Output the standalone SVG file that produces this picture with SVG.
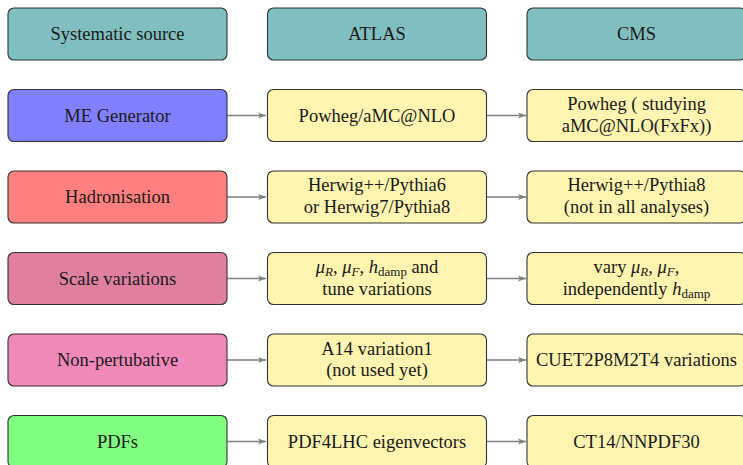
<svg xmlns="http://www.w3.org/2000/svg" width="743" height="465" viewBox="0 0 743 465">
<defs>
<style>
.b{stroke:#333;stroke-width:1.1}
.t{font-family:"Liberation Serif","Times New Roman",serif;font-size:18.5px;fill:#1a1a1a;text-anchor:middle}
.i{font-style:italic}
.s{font-size:13px}
.c{stroke:#808080;stroke-width:1.3;fill:none;marker-end:url(#ah)}
.y{fill:#FFF5B1}
.h{fill:#80BFBF}
</style>
<marker id="ah" markerWidth="10" markerHeight="8" refX="8" refY="4" orient="auto" markerUnits="userSpaceOnUse">
<path d="M0,1 L8,4 L0,7 L2,4 Z" fill="#808080"/>
</marker>
</defs>
<rect width="743" height="465" fill="#fff"/>
<g id="connectors">
<line class="c" x1="227" y1="115.5" x2="266" y2="115.5"/>
<line class="c" x1="486" y1="115.5" x2="526" y2="115.5"/>
<line class="c" x1="227" y1="197" x2="266" y2="197"/>
<line class="c" x1="486" y1="197" x2="526" y2="197"/>
<line class="c" x1="227" y1="278.5" x2="266" y2="278.5"/>
<line class="c" x1="486" y1="278.5" x2="526" y2="278.5"/>
<line class="c" x1="227" y1="360" x2="266" y2="360"/>
<line class="c" x1="486" y1="360" x2="526" y2="360"/>
<line class="c" x1="227" y1="441.5" x2="266" y2="441.5"/>
<line class="c" x1="486" y1="441.5" x2="526" y2="441.5"/>
</g>
<g id="h-source"><rect class="b h" x="8" y="8" width="219" height="52" rx="6"/><text class="t" x="117.5" y="40.3">Systematic source</text></g>
<g id="h-atlas"><rect class="b h" x="267.5" y="8" width="219" height="52" rx="6"/><text class="t" x="377" y="40.3">ATLAS</text></g>
<g id="h-cms"><rect class="b h" x="527" y="8" width="219" height="52" rx="6"/><text class="t" x="636.5" y="40.3">CMS</text></g>

<g id="me"><rect class="b" fill="#8080FF" x="8" y="89.5" width="219" height="52" rx="6"/><text class="t" x="117.5" y="121.8">ME Generator</text></g>
<g id="me-atlas"><rect class="b y" x="267.5" y="89.5" width="219" height="52" rx="6"/><text class="t" x="377" y="121.8">Powheg/aMC@NLO</text></g>
<g id="me-cms"><rect class="b y" x="527" y="89.5" width="219" height="52" rx="6"/><text class="t" x="636.5" y="110.3">Powheg ( studying</text><text class="t" x="636.5" y="131.8">aMC@NLO(FxFx))</text></g>

<g id="had"><rect class="b" fill="#FF8080" x="8" y="171" width="219" height="52" rx="6"/><text class="t" x="117.5" y="203.3">Hadronisation</text></g>
<g id="had-atlas"><rect class="b y" x="267.5" y="171" width="219" height="52" rx="6"/><text class="t" x="377" y="191.3">Herwig++/Pythia6</text><text class="t" x="377" y="213.3">or Herwig7/Pythia8</text></g>
<g id="had-cms"><rect class="b y" x="527" y="171" width="219" height="52" rx="6"/><text class="t" x="636.5" y="191.3">Herwig++/Pythia8</text><text class="t" x="636.5" y="213.3">(not in all analyses)</text></g>

<g id="scale"><rect class="b" fill="#DF809F" x="8" y="252.5" width="219" height="52" rx="6"/><text class="t" x="117.5" y="284.8">Scale variations</text></g>
<g id="scale-atlas"><rect class="b y" x="267.5" y="252.5" width="219" height="52" rx="6"/><text class="t" x="377" y="273"><tspan class="i">μ</tspan><tspan class="i s" dy="3">R</tspan><tspan dy="-3">, </tspan><tspan class="i">μ</tspan><tspan class="i s" dy="3">F</tspan><tspan dy="-3">, </tspan><tspan class="i">h</tspan><tspan class="s" dy="3">damp</tspan><tspan dy="-3"> and</tspan></text><text class="t" x="377" y="294.8">tune variations</text></g>
<g id="scale-cms"><rect class="b y" x="527" y="252.5" width="219" height="52" rx="6"/><text class="t" x="636.5" y="273">vary <tspan class="i">μ</tspan><tspan class="i s" dy="3">R</tspan><tspan dy="-3">, </tspan><tspan class="i">μ</tspan><tspan class="i s" dy="3">F</tspan><tspan dy="-3">,</tspan></text><text class="t" x="636.5" y="294.8">independently <tspan class="i">h</tspan><tspan class="s" dy="3">damp</tspan></text></g>

<g id="np"><rect class="b" fill="#F088B8" x="8" y="334" width="219" height="52" rx="6"/><text class="t" x="117.5" y="366.3">Non-pertubative</text></g>
<g id="np-atlas"><rect class="b y" x="267.5" y="334" width="219" height="52" rx="6"/><text class="t" x="377" y="354.5">A14 variation1</text><text class="t" x="377" y="376.3">(not used yet)</text></g>
<g id="np-cms"><rect class="b y" x="527" y="334" width="219" height="52" rx="6"/><text class="t" x="636.5" y="366.3">CUET2P8M2T4 variations</text></g>

<g id="pdf"><rect class="b" fill="#80FF80" x="8" y="415.5" width="219" height="52" rx="6"/><text class="t" x="117.5" y="447.8">PDFs</text></g>
<g id="pdf-atlas"><rect class="b y" x="267.5" y="415.5" width="219" height="52" rx="6"/><text class="t" x="377" y="447.8">PDF4LHC eigenvectors</text></g>
<g id="pdf-cms"><rect class="b y" x="527" y="415.5" width="219" height="52" rx="6"/><text class="t" x="636.5" y="447.8">CT14/NNPDF30</text></g>
</svg>
